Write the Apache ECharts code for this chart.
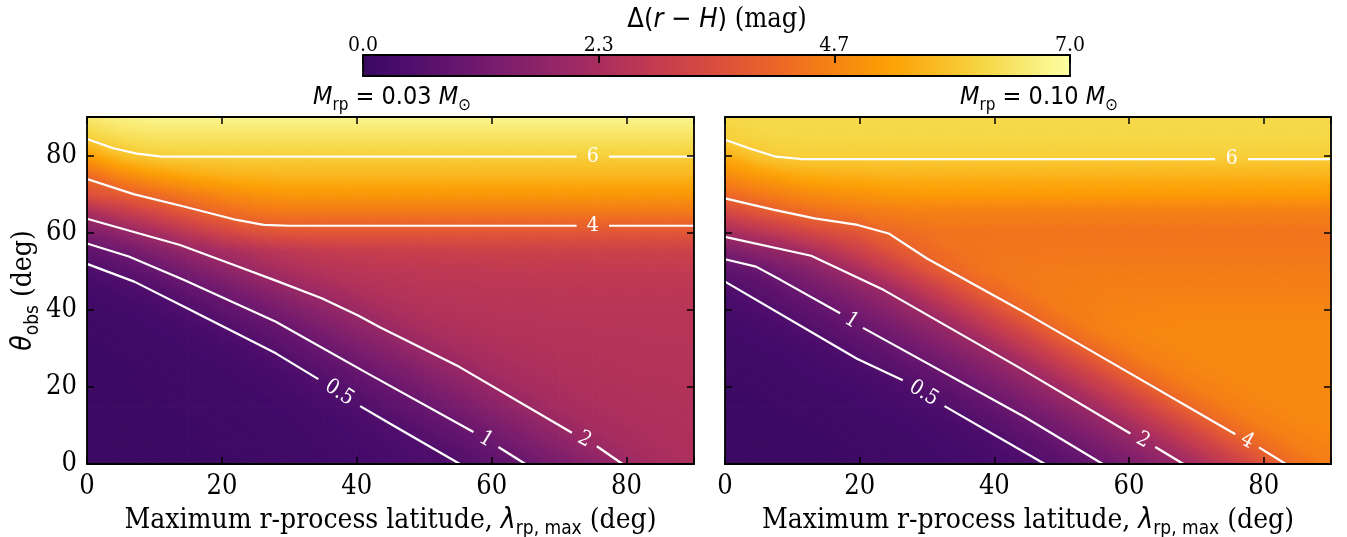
<!DOCTYPE html>
<html>
<head>
<meta charset="utf-8">
<script src="https://cdn.jsdelivr.net/npm/echarts@6/dist/echarts.min.js"></script>
<style>
  html, body { margin: 0; padding: 0; background: #fff; }
  #chart { width: 1347px; height: 537px; }
</style>
</head>
<body>
<div id="chart"></div>
<script>
// ---- data -------------------------------------------------------------
// Grid nodes: maximum r-process latitude (deg) and observer angle (deg)
const lambdaGrid = [0, 5, 10, 15, 20, 25, 30, 35, 40, 45, 50, 55, 60, 65, 70, 75, 80, 85, 90];
const thetaGrid  = [0, 5, 10, 15, 20, 25, 30, 35, 40, 45, 50, 55, 60, 65, 70, 75, 80, 85, 90];

// Δ(r − H) in mag, one row per theta (0 → 90), columns follow lambdaGrid. M_rp = 0.03 M_sun
const deltaLowMass = [
  [0.05,0.05,0.06,0.07,0.08,0.10,0.13,0.17,0.23,0.31,0.40,0.49,0.74,1.00,1.35,1.69,2.04,2.30,2.42],
  [0.05,0.05,0.06,0.07,0.09,0.11,0.14,0.19,0.26,0.36,0.48,0.73,0.98,1.32,1.67,2.02,2.28,2.40,2.44],
  [0.05,0.06,0.07,0.08,0.10,0.12,0.16,0.22,0.32,0.48,0.73,0.98,1.30,1.65,2.00,2.27,2.38,2.43,2.46],
  [0.06,0.07,0.08,0.10,0.12,0.15,0.20,0.30,0.47,0.73,0.98,1.31,1.65,2.00,2.27,2.38,2.44,2.47,2.49],
  [0.06,0.07,0.09,0.11,0.14,0.19,0.28,0.46,0.72,0.99,1.32,1.65,1.99,2.26,2.38,2.45,2.48,2.50,2.52],
  [0.07,0.08,0.10,0.13,0.18,0.27,0.44,0.71,0.99,1.32,1.65,1.98,2.25,2.38,2.46,2.50,2.52,2.54,2.55],
  [0.08,0.10,0.13,0.18,0.26,0.43,0.71,1.00,1.34,1.68,2.02,2.28,2.40,2.48,2.52,2.55,2.56,2.57,2.58],
  [0.10,0.13,0.18,0.27,0.45,0.73,1.00,1.36,1.72,2.05,2.32,2.45,2.52,2.56,2.58,2.60,2.61,2.62,2.62],
  [0.13,0.18,0.28,0.49,0.77,1.06,1.41,1.76,2.08,2.36,2.50,2.56,2.60,2.62,2.64,2.65,2.66,2.66,2.66],
  [0.20,0.32,0.52,0.83,1.16,1.51,1.87,2.17,2.42,2.55,2.62,2.66,2.69,2.70,2.71,2.72,2.72,2.72,2.72],
  [0.38,0.62,0.92,1.28,1.67,2.05,2.35,2.55,2.66,2.72,2.76,2.78,2.80,2.82,2.83,2.84,2.85,2.85,2.85],
  [0.80,1.08,1.48,1.87,2.20,2.50,2.72,2.85,2.93,2.98,3.02,3.05,3.07,3.08,3.09,3.10,3.10,3.10,3.10],
  [1.44,1.80,2.25,2.75,3.20,3.55,3.68,3.70,3.70,3.70,3.70,3.70,3.70,3.70,3.70,3.70,3.70,3.70,3.70],
  [2.27,2.78,3.26,3.70,4.10,4.33,4.40,4.40,4.40,4.40,4.40,4.40,4.40,4.40,4.40,4.40,4.40,4.40,4.40],
  [3.55,3.85,4.20,4.50,4.75,4.95,5.05,5.05,5.05,5.05,5.05,5.05,5.05,5.05,5.05,5.05,5.05,5.05,5.05],
  [4.20,4.75,5.10,5.35,5.50,5.55,5.60,5.60,5.60,5.60,5.60,5.60,5.60,5.60,5.60,5.60,5.60,5.60,5.60],
  [5.17,5.75,6.00,6.03,6.03,6.03,6.03,6.03,6.03,6.03,6.03,6.03,6.03,6.03,6.03,6.03,6.03,6.03,6.03],
  [6.05,6.30,6.40,6.40,6.40,6.40,6.40,6.40,6.40,6.40,6.40,6.40,6.40,6.40,6.40,6.40,6.40,6.40,6.40],
  [6.50,6.70,6.80,6.80,6.80,6.80,6.80,6.80,6.80,6.80,6.80,6.80,6.80,6.80,6.80,6.80,6.80,6.80,6.80]
];

// Same layout, M_rp = 0.10 M_sun
const deltaHighMass = [
  [0.05,0.05,0.06,0.07,0.09,0.11,0.15,0.20,0.28,0.42,0.65,0.94,1.33,1.74,2.25,2.91,3.57,4.25,4.55],
  [0.05,0.06,0.07,0.08,0.10,0.13,0.18,0.25,0.37,0.64,0.93,1.31,1.74,2.25,2.90,3.56,4.20,4.55,4.68],
  [0.06,0.07,0.08,0.10,0.13,0.17,0.24,0.36,0.63,0.91,1.29,1.72,2.24,2.89,3.55,4.20,4.55,4.70,4.74],
  [0.07,0.08,0.10,0.13,0.17,0.24,0.36,0.62,0.90,1.28,1.71,2.21,2.87,3.54,4.20,4.55,4.70,4.74,4.75],
  [0.08,0.10,0.13,0.17,0.24,0.36,0.62,0.91,1.29,1.71,2.20,2.86,3.52,4.20,4.55,4.70,4.74,4.75,4.75],
  [0.10,0.13,0.17,0.25,0.38,0.65,0.91,1.28,1.69,2.17,2.84,3.51,4.20,4.55,4.70,4.74,4.75,4.75,4.75],
  [0.13,0.17,0.24,0.38,0.66,0.92,1.28,1.69,2.17,2.84,3.51,4.20,4.55,4.70,4.74,4.75,4.75,4.75,4.75],
  [0.18,0.26,0.40,0.65,0.92,1.27,1.70,2.17,2.83,3.50,4.20,4.55,4.70,4.74,4.75,4.75,4.75,4.75,4.75],
  [0.26,0.42,0.65,0.92,1.29,1.70,2.17,2.83,3.50,4.15,4.48,4.60,4.65,4.67,4.68,4.68,4.68,4.68,4.68],
  [0.42,0.65,0.94,1.31,1.71,2.17,2.85,3.52,4.15,4.42,4.52,4.56,4.58,4.60,4.60,4.60,4.60,4.60,4.60],
  [0.73,0.93,1.35,1.77,2.29,2.93,3.57,4.15,4.38,4.45,4.48,4.50,4.50,4.50,4.50,4.50,4.50,4.50,4.50],
  [1.33,1.68,1.98,2.52,3.07,3.62,4.12,4.32,4.38,4.40,4.42,4.42,4.42,4.42,4.42,4.42,4.42,4.42,4.42],
  [2.22,2.61,3.03,3.42,3.72,4.12,4.30,4.35,4.36,4.36,4.36,4.36,4.36,4.36,4.36,4.36,4.36,4.36,4.36],
  [3.22,3.63,4.02,4.25,4.40,4.50,4.55,4.55,4.55,4.55,4.55,4.55,4.55,4.55,4.55,4.55,4.55,4.55,4.55],
  [4.15,4.45,4.70,4.85,4.95,5.05,5.10,5.10,5.10,5.10,5.10,5.10,5.10,5.10,5.10,5.10,5.10,5.10,5.10],
  [4.80,5.10,5.35,5.45,5.50,5.55,5.55,5.55,5.55,5.55,5.55,5.55,5.55,5.55,5.55,5.55,5.55,5.55,5.55],
  [5.45,5.85,6.02,6.03,6.03,6.03,6.03,6.03,6.03,6.03,6.03,6.03,6.03,6.03,6.03,6.03,6.03,6.03,6.03],
  [6.05,6.12,6.15,6.15,6.15,6.15,6.15,6.15,6.15,6.15,6.15,6.15,6.15,6.15,6.15,6.15,6.15,6.15,6.15],
  [6.15,6.20,6.20,6.20,6.20,6.20,6.20,6.20,6.20,6.20,6.20,6.20,6.20,6.20,6.20,6.20,6.20,6.20,6.20]
];

// Contour paths [lambda, theta]; a labelled contour is split in two around its label
const contoursLowMass = [
  { label: '0.5', segments: [
    [[0,51.9],[7,47.3],[14.4,40.8],[28,28.7],[34.3,22.0]],
    [[40.5,15.0],[44.9,10.5],[55.3,0]] ] },
  { label: '1', segments: [
    [[0,57.2],[6.2,53.8],[14.4,47.7],[28,36.9],[41.6,23.5],[57.3,8.3]],
    [[61.0,4.4],[65,0]] ] },
  { label: '2', segments: [
    [[0,63.6],[13.8,56.8],[21.2,52.0],[28.1,47.5],[34.8,43.0],[40.2,38.5],[43.5,35.4],[55.2,25.2],[71.9,8.1]],
    [[75.6,4.6],[79.4,0]] ] },
  { label: '4', segments: [
    [[0,73.9],[6.9,70.0],[14.8,66.6],[22.2,63.3],[26.2,62.0],[30,61.8],[72.6,61.8]],
    [[77.4,61.8],[90,61.8]] ] },
  { label: '6', segments: [
    [[0,84.3],[3.9,81.9],[7.4,80.5],[11.1,79.7],[72.6,79.7]],
    [[77.4,79.7],[90,79.7]] ] }
];

const contoursHighMass = [
  { label: '0.5', segments: [
    [[0,47.3],[19.6,27.3],[26.4,21.7]],
    [[32.6,15.0],[47.5,0]] ] },
  { label: '1', segments: [
    [[0,53.1],[4.6,51.2],[8.3,47.7],[17.1,39.1]],
    [[20.5,35.3],[44.5,12.2],[56.1,0]] ] },
  { label: '2', segments: [
    [[0,58.9],[12.8,54.0],[23.6,45.1],[43.9,24.8],[60.2,7.9]],
    [[63.9,4.4],[68.1,0]] ] },
  { label: '4', segments: [
    [[0,68.9],[7.3,65.9],[13.3,63.7],[19.7,62.0],[24.3,59.8],[30,53.3],[43.9,39.9],[57.6,26.1],[75.8,7.7]],
    [[79.3,4.3],[83.3,0]] ] },
  { label: '6', segments: [
    [[0,84.1],[3.9,81.7],[7.6,79.7],[11.3,79.1],[72.8,79.1]],
    [[77.7,79.1],[90,79.1]] ] }
];

// Colour scale range and its tick values
const colorRange = [0, 7];
const colorTicks = [0, 7 / 3, 14 / 3, 7];

// ---- colour map (inferno, lower end trimmed) ----------------------------
const INFERNO = [
  [0.0,'#000004'],[0.1,'#160b39'],[0.111,'#1b0c41'],[0.2,'#420a68'],[0.222,'#4a0c6b'],
  [0.3,'#6a176e'],[0.333,'#781c6d'],[0.4,'#932667'],[0.444,'#a52c60'],[0.5,'#bc3754'],
  [0.556,'#cf4446'],[0.6,'#dd513a'],[0.667,'#ed6925'],[0.7,'#f37819'],[0.778,'#fb9b06'],
  [0.8,'#fca50a'],[0.889,'#f7d13d'],[0.9,'#f6d746'],[1.0,'#fcffa4']
].map(([p, h]) => [p, parseInt(h.slice(1, 3), 16), parseInt(h.slice(3, 5), 16), parseInt(h.slice(5, 7), 16)]);
const CMAP_START = 0.18;

function colorAt(v) {
  let f = (v - colorRange[0]) / (colorRange[1] - colorRange[0]);
  f = Math.max(0, Math.min(1, f));
  const t = CMAP_START + (1 - CMAP_START) * f;
  for (let i = 1; i < INFERNO.length; i++) {
    if (t <= INFERNO[i][0]) {
      const a = INFERNO[i - 1], b = INFERNO[i];
      const u = (t - a[0]) / (b[0] - a[0]);
      const r = Math.round(a[1] + (b[1] - a[1]) * u);
      const g = Math.round(a[2] + (b[2] - a[2]) * u);
      const bl = Math.round(a[3] + (b[3] - a[3]) * u);
      return 'rgb(' + r + ',' + g + ',' + bl + ')';
    }
  }
  const l = INFERNO[INFERNO.length - 1];
  return 'rgb(' + l[1] + ',' + l[2] + ',' + l[3] + ')';
}

// Linear (Gouraud-style) shading of one triangle: the value varies linearly,
// so a linear gradient along its gradient direction reproduces it exactly.
function shadeTriangle(pa, pb, pc, a, b, c) {
  const e1x = pb[0] - pa[0], e1y = pb[1] - pa[1];
  const e2x = pc[0] - pa[0], e2y = pc[1] - pa[1];
  const d1 = b - a, d2 = c - a;
  const det = e1x * e2y - e1y * e2x;
  const lo = Math.min(a, b, c), hi = Math.max(a, b, c);
  let fill;
  if (hi - lo < 1e-6 || Math.abs(det) < 1e-9) {
    fill = colorAt((a + b + c) / 3);
  } else {
    const gx = (d1 * e2y - d2 * e1y) / det;
    const gy = (d2 * e1x - d1 * e2x) / det;
    const g2 = gx * gx + gy * gy;
    const stops = [];
    const n = Math.max(2, Math.ceil((hi - lo) / 0.05) + 1);
    for (let k = 0; k < n; k++) {
      const t = k / (n - 1);
      stops.push({ offset: t, color: colorAt(lo + (hi - lo) * t) });
    }
    fill = {
      type: 'linear', global: true,
      x: pa[0] + (lo - a) * gx / g2, y: pa[1] + (lo - a) * gy / g2,
      x2: pa[0] + (hi - a) * gx / g2, y2: pa[1] + (hi - a) * gy / g2,
      colorStops: stops
    };
  }
  return { type: 'polygon', silent: true, shape: { points: [pa, pb, pc] },
           style: { fill: fill, stroke: fill, lineWidth: 1 } };
}

// Cells of the value grid: [l0, t0, l1, t1, v00, v10, v01, v11]
function buildCells(field) {
  const cells = [];
  for (let j = 0; j < thetaGrid.length - 1; j++) {
    for (let i = 0; i < lambdaGrid.length - 1; i++) {
      cells.push([lambdaGrid[i], thetaGrid[j], lambdaGrid[i + 1], thetaGrid[j + 1],
                  field[j][i], field[j][i + 1], field[j + 1][i], field[j + 1][i + 1]]);
    }
  }
  return cells;
}

function fieldSeries(field, axisIdx) {
  return {
    type: 'custom', xAxisIndex: axisIdx, yAxisIndex: axisIdx,
    data: buildCells(field), clip: true, silent: true, animation: false, progressive: 0, z: 1,
    encode: { x: [0, 2], y: [1, 3] },
    renderItem: function (params, api) {
      const l0 = api.value(0), t0 = api.value(1), l1 = api.value(2), t1 = api.value(3);
      const v00 = api.value(4), v10 = api.value(5), v01 = api.value(6), v11 = api.value(7);
      const p00 = api.coord([l0, t0]), p10 = api.coord([l1, t0]);
      const p01 = api.coord([l0, t1]), p11 = api.coord([l1, t1]);
      return { type: 'group', children: [
        shadeTriangle(p00, p10, p01, v00, v10, v01),
        shadeTriangle(p10, p11, p01, v10, v11, v01)
      ] };
    }
  };
}

const SERIF = "'DejaVu Serif Condensed', 'DejaVu Serif'";
const SANS = "'DejaVu Sans Condensed', 'DejaVu Sans'";

function contourSeries(contours, axisIdx) {
  const out = [];
  contours.forEach(c => {
    c.segments.forEach(seg => {
      out.push({
        type: 'line', xAxisIndex: axisIdx, yAxisIndex: axisIdx, data: seg,
        symbol: 'none', showSymbol: false, silent: true, animation: false, z: 5, clip: true,
        lineStyle: { color: '#ffffff', width: 2.2 }
      });
    });
  });
  // Labels sit in the gap between the two pieces, turned along the line
  const items = contours.map(c => {
    const a = c.segments[0][c.segments[0].length - 1];
    const b = c.segments[1][0];
    return [(a[0] + b[0]) / 2, (a[1] + b[1]) / 2, a[0], a[1], b[0], b[1]];
  });
  out.push({
    type: 'custom', xAxisIndex: axisIdx, yAxisIndex: axisIdx, data: items,
    silent: true, animation: false, z: 6,
    renderItem: function (params, api) {
      const p = api.coord([api.value(0), api.value(1)]);
      const pa = api.coord([api.value(2), api.value(3)]);
      const pb = api.coord([api.value(4), api.value(5)]);
      const ang = Math.atan2(pb[1] - pa[1], pb[0] - pa[0]);
      return {
        type: 'text', x: p[0], y: p[1], rotation: -ang,
        style: { text: contours[params.dataIndex].label, fill: '#ffffff',
                 font: '21px ' + SERIF, align: 'center', verticalAlign: 'middle' }
      };
    }
  });
  return out;
}

// ---- axes ----------------------------------------------------------------
const lineBlack = { color: '#000', width: 1.8 };
const tickBlack = { color: '#000', width: 1.5 };
const tickFmt = v => (v % 20 === 0 ? String(v) : '');
const subRich = {
  t: { fontFamily: SERIF, fontSize: 28, color: '#000', lineHeight: 36 },
  m: { fontFamily: SANS, fontStyle: 'italic', fontSize: 28, color: '#000', lineHeight: 36 },
  s: { fontFamily: SANS, fontSize: 19, color: '#000', lineHeight: 19, verticalAlign: 'bottom' }
};

function xAxes(grid) {
  return [
    { gridIndex: grid, type: 'value', min: 0, max: 90, interval: 20, position: 'bottom', z: 10,
      axisLine: { onZero: false, lineStyle: lineBlack },
      axisTick: { inside: true, length: 7, lineStyle: tickBlack },
      axisLabel: { fontFamily: SERIF, fontSize: 27, color: '#000', margin: 9, formatter: tickFmt },
      splitLine: { show: false },
      name: '{t|Maximum r-process latitude, }{m|λ}{s|rp, max}{t| (deg)}',
      nameLocation: 'middle', nameGap: 39, nameTextStyle: { rich: subRich } },
    { gridIndex: grid, type: 'value', min: 0, max: 90, interval: 20, position: 'top', z: 10,
      axisLine: { onZero: false, lineStyle: lineBlack },
      axisTick: { inside: true, length: 7, lineStyle: tickBlack },
      axisLabel: { show: false }, splitLine: { show: false } }
  ];
}

function yAxes(grid, withLabels) {
  const left = { gridIndex: grid, type: 'value', min: 0, max: 90, interval: 20, position: 'left', z: 10,
    axisLine: { onZero: false, lineStyle: lineBlack },
    axisTick: { inside: true, length: 7, lineStyle: tickBlack },
    axisLabel: { show: withLabels, fontFamily: SERIF, fontSize: 27, color: '#000', margin: 10,
                 verticalAlign: 'middle', verticalAlignMinLabel: 'middle', verticalAlignMaxLabel: 'middle',
                 formatter: tickFmt },
    splitLine: { show: false } };
  if (withLabels) {
    left.name = '{m|θ}{s|obs}{t| (deg)}';
    left.nameLocation = 'middle';
    left.nameGap = 43;
    left.nameRotate = 90;
    left.nameTextStyle = { rich: subRich };
  }
  return [left,
    { gridIndex: grid, type: 'value', min: 0, max: 90, interval: 20, position: 'right', z: 10,
      axisLine: { onZero: false, lineStyle: lineBlack },
      axisTick: { inside: true, length: 7, lineStyle: tickBlack },
      axisLabel: { show: false }, splitLine: { show: false } }];
}

// Colour bar axes (grid 2)
const cbarX = [
  { gridIndex: 2, type: 'value', min: colorRange[0], max: colorRange[1], interval: colorTicks[1],
    position: 'top', z: 10,
    axisLine: { onZero: false, lineStyle: lineBlack },
    axisTick: { inside: true, length: 8, lineStyle: { color: '#000', width: 1.8 } },
    axisLabel: { fontFamily: SERIF, fontSize: 21, color: '#000', margin: -1, showMaxLabel: true,
                 formatter: v => v.toFixed(1) },
    splitLine: { show: false } },
  { gridIndex: 2, type: 'value', min: colorRange[0], max: colorRange[1], position: 'bottom', z: 10,
    axisLine: { onZero: false, lineStyle: lineBlack }, axisTick: { show: false },
    axisLabel: { show: false }, splitLine: { show: false } }
];
const cbarY = [
  { gridIndex: 2, type: 'value', min: 0, max: 1, position: 'left', z: 10,
    axisLine: { onZero: false, lineStyle: lineBlack }, axisTick: { show: false },
    axisLabel: { show: false }, splitLine: { show: false } },
  { gridIndex: 2, type: 'value', min: 0, max: 1, position: 'right', z: 10,
    axisLine: { onZero: false, lineStyle: lineBlack }, axisTick: { show: false },
    axisLabel: { show: false }, splitLine: { show: false } }
];

const colorbarSeries = {
  type: 'custom', xAxisIndex: 4, yAxisIndex: 4, silent: true, animation: false, z: 1,
  data: [[colorRange[0], 0, colorRange[1], 1]],
  renderItem: function (params, api) {
    const p0 = api.coord([api.value(0), api.value(1)]);
    const p1 = api.coord([api.value(2), api.value(3)]);
    const stops = [];
    for (let k = 0; k <= 70; k++) {
      const t = k / 70;
      stops.push({ offset: t, color: colorAt(colorRange[0] + (colorRange[1] - colorRange[0]) * t) });
    }
    return { type: 'rect', shape: { x: p0[0], y: p1[1], width: p1[0] - p0[0], height: p0[1] - p1[1] },
             style: { fill: { type: 'linear', x: 0, y: 0, x2: 1, y2: 0, colorStops: stops } } };
  }
};

const headRich = {
  a: { fontFamily: SANS, fontSize: 27, color: '#000' },
  i: { fontFamily: SANS, fontStyle: 'italic', fontSize: 27, color: '#000' },
  b: { fontFamily: SERIF, fontSize: 27, color: '#000' }
};
const massRich = {
  m: { fontFamily: SANS, fontStyle: 'italic', fontSize: 25, color: '#000', lineHeight: 34 },
  t: { fontFamily: SANS, fontSize: 25, color: '#000', lineHeight: 34 },
  s: { fontFamily: SANS, fontSize: 17, color: '#000', lineHeight: 17, verticalAlign: 'bottom' }
};

const chart = echarts.init(document.getElementById('chart'), null, { renderer: 'canvas' });
chart.setOption({
  backgroundColor: '#ffffff',
  animation: false,
  grid: [
    { left: 87, top: 117, width: 607, height: 347, outerBoundsMode: 'none', containLabel: false },
    { left: 725, top: 117, width: 606, height: 347, outerBoundsMode: 'none', containLabel: false },
    { left: 363, top: 55, width: 707, height: 21, outerBoundsMode: 'none', containLabel: false }
  ],
  xAxis: [...xAxes(0), ...xAxes(1), ...cbarX],
  yAxis: [...yAxes(0, true), ...yAxes(1, false), ...cbarY],
  graphic: [
    { type: 'text', x: 717, y: 20, silent: true,
      style: { text: '{a|Δ(}{i|r}{a| − }{i|H}{a|)}{b| (mag)}', rich: headRich, align: 'center', verticalAlign: 'middle' } },
    { type: 'text', x: 313, y: 97, silent: true,
      style: { text: '{m|M}{s|rp}{t| = 0.03 }{m|M}{s|⊙}', rich: massRich, align: 'left', verticalAlign: 'middle' } },
    { type: 'text', x: 1118, y: 97, silent: true,
      style: { text: '{m|M}{s|rp}{t| = 0.10 }{m|M}{s|⊙}', rich: massRich, align: 'right', verticalAlign: 'middle' } }
  ],
  series: [
    fieldSeries(deltaLowMass, 0),
    fieldSeries(deltaHighMass, 2),
    ...contourSeries(contoursLowMass, 0),
    ...contourSeries(contoursHighMass, 2),
    colorbarSeries
  ]
});
</script>
</body>
</html>
